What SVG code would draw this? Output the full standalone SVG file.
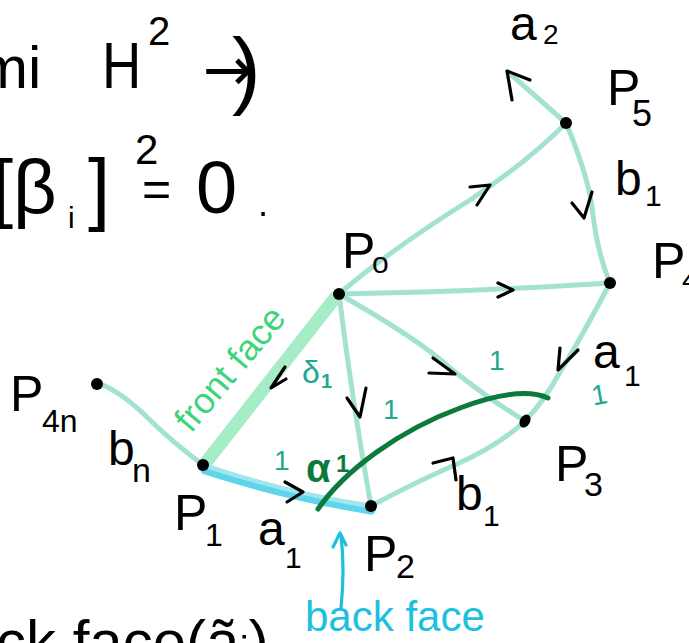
<svg xmlns="http://www.w3.org/2000/svg" width="689" height="643" viewBox="0 0 689 643">
<defs>
<style>
.e{fill:none;stroke:#a3e2d2;stroke-width:5;stroke-linecap:round;stroke-linejoin:round}
.ch{fill:none;stroke:#000;stroke-width:3.2;stroke-linecap:round;stroke-linejoin:round}
.t{font-family:"Liberation Sans","DejaVu Sans",sans-serif;fill:#000}
.one{font-family:"Liberation Sans","DejaVu Sans",sans-serif;fill:#22a88c;font-size:28px}
.dot{fill:#000}
</style>
</defs>
<rect width="689" height="643" fill="#fff"/>

<g id="formulas">
<text class="t" x="-22" y="88" font-size="60">mi</text>
<text class="t" x="102" y="88" font-size="64" transform="translate(102 0) scale(0.85 1) translate(-102 0)">H</text>
<text class="t" x="148" y="45" font-size="40">2</text>
<text x="203" y="90" font-size="60" font-family="DejaVu Sans, sans-serif" fill="#000">→</text>
<text class="t" x="232" y="98" font-size="86">)</text>
<text class="t" x="-8" y="213" font-size="76">[β</text>
<text class="t" x="68" y="228" font-size="30">i</text>
<text class="t" x="88" y="215" font-size="80">]</text>
<text class="t" x="135" y="164" font-size="42">2</text>
<text class="t" x="142" y="206" font-size="50">=</text>
<text class="t" x="196" y="213" font-size="74">0</text>
<text class="t" x="258" y="216" font-size="36">.</text>
<text class="t" x="-4" y="662" font-size="60">ck face(ãᵢ)</text>
</g>

<g id="connectors">
<path class="e" d="M566 123 Q540 100 508 72"/>
<path class="e" d="M339 294 Q390 250 470 200 Q530 160 566 123"/>
<path class="e" d="M566 123 Q590 180 593 215 Q598 255 610 283"/>
<path class="e" d="M339 294 Q470 292 610 283"/>
<path class="e" d="M610 283 Q580 340 560 372 Q545 400 525 421"/>
<path class="e" d="M339 294 Q420 340 450 368 Q490 400 525 421"/>
<path class="e" d="M339 294 Q352 400 371 506"/>
<path class="e" d="M371 506 Q420 480 455 465 Q500 445 525 421"/>
<path class="e" d="M203 465 Q170 440 150 420 Q125 395 103 385"/>
<path class="e" d="M339 294 L203 465"/>
<path class="e" d="M203 465 Q290 495 371 506"/>
<path d="M335 298 L207 461" fill="none" stroke="#a6ecc6" stroke-width="13" stroke-linecap="round"/>
<path d="M205 470 Q290 497 371 510" fill="none" stroke="#5fd4ea" stroke-width="9" stroke-linecap="round"/>
<path d="M208 467 Q290 493 368 506" fill="none" stroke="#9fe6ee" stroke-width="4" stroke-linecap="round"/>
<path d="M318 509 C345 470 400 430 460 408 C500 393 530 390 548 398" fill="none" stroke="#0b7a3c" stroke-width="5" stroke-linecap="round"/>
<path class="ch" d="M470 187 L490 185 L477 205"/>
<path class="ch" d="M498 283 L513 290 L498 297"/>
<path class="ch" d="M572 203 L584 218 L592 192"/>
<path class="ch" d="M560 348 L558 370 L578 350"/>
<path class="ch" d="M433 358 L455 374 L429 373"/>
<path class="ch" d="M347 398 L360 417 L366 388"/>
<path class="ch" d="M285 367 L271 388 L286 379"/>
<path class="ch" d="M285 482 L303 492 L287 502"/>
<path class="ch" d="M433 463 L453 458 L456 480"/>
<path class="ch" d="M512 100 L507 71 L530 80"/>
<path d="M341 608 Q345 570 341 535" fill="none" stroke="#1ec0df" stroke-width="3.2" stroke-linecap="round"/>
<path d="M333 547 L340 533 L346 545" fill="none" stroke="#1ec0df" stroke-width="3.2" stroke-linecap="round" stroke-linejoin="round"/>
</g>

<g id="P0"><circle class="dot" cx="339" cy="294" r="6"/><text class="t" x="342" y="268" font-size="50">P</text><text class="t" x="372" y="273" font-size="30">o</text></g>
<g id="P5"><circle class="dot" cx="566" cy="123" r="6"/><text class="t" x="607" y="105" font-size="50">P</text><text class="t" x="632" y="126" font-size="36">5</text></g>
<g id="P4"><circle class="dot" cx="610" cy="283" r="6"/><text class="t" x="652" y="278" font-size="50">P</text><text class="t" x="682" y="290" font-size="30">4</text></g>
<g id="P3"><ellipse class="dot" cx="525" cy="421" rx="5" ry="7" transform="rotate(30 525 421)"/><text class="t" x="555" y="481" font-size="50">P</text><text class="t" x="584" y="496" font-size="34">3</text></g>
<g id="P2"><circle class="dot" cx="371" cy="506" r="6"/><text class="t" x="364" y="571" font-size="50">P</text><text class="t" x="396" y="578" font-size="34">2</text></g>
<g id="P1"><circle class="dot" cx="203" cy="465" r="6"/><text class="t" x="174" y="530" font-size="50">P</text><text class="t" x="205" y="546" font-size="32">1</text></g>
<g id="P4n"><circle class="dot" cx="97" cy="384" r="6"/><text class="t" x="10" y="411" font-size="50">P</text><text class="t" x="42" y="432" font-size="32">4n</text></g>
<g id="a2"><text class="t" x="510" y="40" font-size="48">a</text><text class="t" x="543" y="44" font-size="28">2</text></g>

<g id="labels">
<text class="t" x="615" y="195" font-size="48">b</text><text class="t" x="645" y="206" font-size="30">1</text>
<text class="t" x="593" y="368" font-size="48">a</text><text class="t" x="624" y="386" font-size="30">1</text>
<text class="t" x="456" y="510" font-size="48">b</text><text class="t" x="483" y="526" font-size="30">1</text>
<text class="t" x="258" y="545" font-size="48">a</text><text class="t" x="285" y="568" font-size="30">1</text>
<text class="t" x="108" y="465" font-size="48">b</text><text class="t" x="132" y="482" font-size="34">n</text>
<text class="one" x="274" y="470">1</text>
<text class="one" x="383" y="419">1</text>
<text class="one" x="489" y="370">1</text>
<text class="one" x="591" y="404" transform="rotate(-10 600 392)">1</text>
<text x="302" y="383" font-family="Liberation Sans, DejaVu Sans, sans-serif" font-size="32" fill="#22a88c">δ</text>
<text x="321" y="388" font-family="Liberation Sans, DejaVu Sans, sans-serif" font-size="20" fill="#22a88c" font-weight="bold">1</text>
<text x="306" y="482" font-family="Liberation Sans, DejaVu Sans, sans-serif" font-size="40" fill="#0b7a3c" font-weight="bold">α</text>
<text x="336" y="472" font-family="Liberation Sans, DejaVu Sans, sans-serif" font-size="24" fill="#0b7a3c" font-weight="bold">1</text>
<text x="191" y="434" font-family="Liberation Sans, DejaVu Sans, sans-serif" font-size="36" fill="#3dd47a" transform="rotate(-50 191 434)">front face</text>
<text x="305" y="631" font-family="Liberation Sans, DejaVu Sans, sans-serif" font-size="42" fill="#1ec0df">back face</text>
</g>
</svg>
